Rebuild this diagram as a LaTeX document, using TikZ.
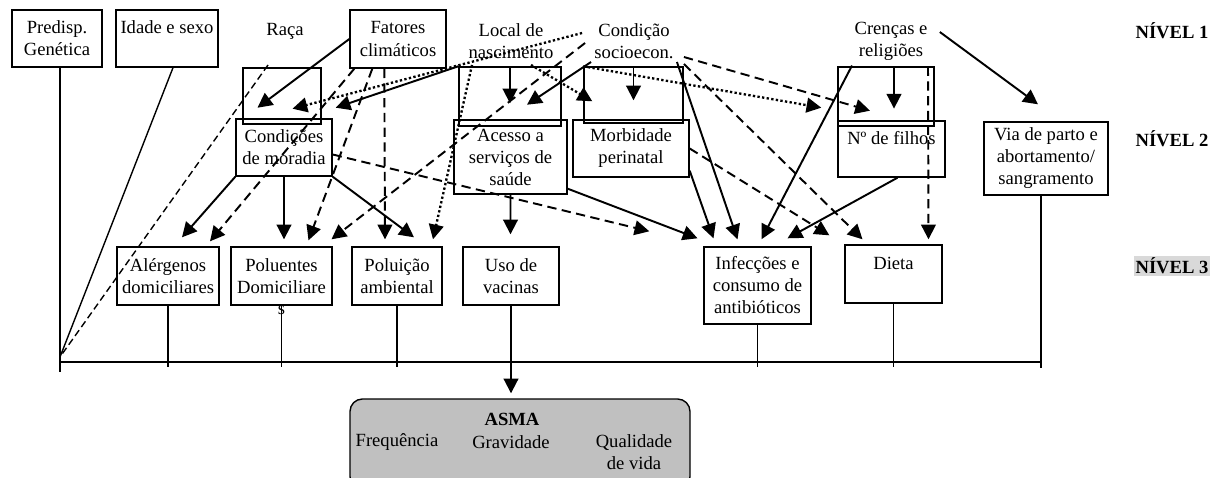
\documentclass[tikz,border=0pt]{standalone}
\usepackage{fontspec}
\setmainfont{Liberation Serif}
\usepackage{xcolor}
\definecolor{AsmaGray}{RGB}{192,192,192}
\definecolor{TagGray}{RGB}{217,217,217}
\usepackage{tikz}
\usetikzlibrary{
  arrows.meta,
  positioning, calc
}
\newlength{\pxl}
\setlength{\pxl}{0.645pt}
\newcommand{\diafont}{\fontsize{12pt}{14.2pt}\selectfont}
\tikzset{
  % Factor box (size given in pixels)
  factor/.style={
    rectangle, draw=black, line width=0.9pt,
    align=center, inner sep=1pt
  },
  sized/.style 2 args={minimum width=#1\pxl, minimum height=#2\pxl},
  % Empty frame left behind a level-2 box
  ghost/.style={rectangle, draw=black, line width=0.9pt, inner sep=0pt},
  % Loose text
  ftext/.style={align=center, inner sep=2pt},
  % Level tag
  tag/.style={font=\diafont\bfseries, inner sep=1pt},
  % Outcome box
  asmabox/.style={
    rectangle, rounded corners=8pt,
    draw=black, line width=0.9pt, fill=AsmaGray,
    minimum width=340\pxl, minimum height=90\pxl
  },
  % Arrows
  arr/.style={-{Triangle[length=9.5pt,width=9.5pt]}, line width=1.25pt},
  darr/.style={arr, dash pattern=on 6pt off 3.5pt},
  oarr/.style={arr, line width=1.5pt, dash pattern=on 1.5pt off 1.5pt},
  % Thin joining lines
  bus/.style={line width=0.9pt},
}

\begin{document}
\begin{tikzpicture}[x=\pxl, y=-\pxl, font=\diafont]
  \clip (0,0) rectangle (1218,478);

  % level 1
  \node[factor, sized={90}{57}] (pred) at (57,38.5) {Predisp.\\Genética};
  \node[factor, sized={102}{57}] (idade) at (167,38.5) {Idade e sexo\\~};
  \node[ftext] (raca) at (285,31) {Raça};
  \node[factor, sized={96}{58}] (fatores) at (398,39) {Fatores\\climáticos};
  \node[ftext] (local) at (511,41) {Local de\\nascimento};
  \node[ftext] (socio) at (634,41) {Condição\\socioecon.};
  \node[ftext] (crencas) at (891,41) {Crenças e\\religiões};

  % old frames behind level 2
  \node[ghost, sized={78}{56}] (sh1) at (282,96) {};
  \node[ghost, sized={102}{59}] (sh2) at (510,96.5) {};
  \node[ghost, sized={99}{56}] (sh3) at (633.5,95) {};
  \node[ghost, sized={96}{59}] (sh4) at (886,96.5) {};

  % level 2
  \node[factor, sized={96}{57}] (moradia) at (284,147.5) {Condições\\de moradia};
  \node[factor, sized={113}{74}] (acesso) at (510.5,157) {Acesso a\\serviços de\\saúde};
  \node[factor, sized={116}{57}] (morb) at (631,148.5) {Morbidade\\perinatal};
  \node[factor, sized={107}{56}] (filhos) at (891.5,149) {Nº de filhos\\~};
  \node[factor, sized={124}{73}] (viaparto) at (1046,158.5) {Via de parto e\\abortamento/\\sangramento};

  % level 3
  \node[factor, sized={102}{58}] (alerg) at (168,276) {Alérgenos\\domiciliares};
  \node[factor, sized={101}{58}, label={[inner sep=0pt]below:s}] (polu) at (281.5,276) {Poluentes\\Domiciliare};
  \node[factor, sized={90}{58}] (poluamb) at (397,276) {Poluição\\ambiental};
  \node[factor, sized={96}{58}] (vacinas) at (511,276) {Uso de\\vacinas};
  \node[factor, sized={107}{77}] (infec) at (757.5,285.5) {Infecções e\\consumo de\\antibióticos};
  \node[factor, sized={97}{58}] (dieta) at (893.5,274) {Dieta\\~};

  \node[tag] (niv1) at (1172,31) {NÍVEL 1};
  \node[tag] (niv2) at (1172,139) {NÍVEL 2};
  \node[tag, fill=TagGray] (niv3) at (1172,266) {NÍVEL 3};

  % outcome
  \node[asmabox] (asma) at (520,444) {};
  \node[inner sep=0pt] (asmat) at (512,419) {\bfseries ASMA};
  \node[inner sep=0pt] (freq) at (397,442) {Frequência};
  \node[inner sep=0pt] (grav) at (511,442) {Gravidade};
  \node[align=center, inner sep=0pt] (qual) at (634,452) {Qualidade\\de vida};

  % joining lines to the outcome
  \coordinate (busL) at (60,362);
  \coordinate (busR) at (1041,362);
  \coordinate (tick) at (0,367);
  \coordinate (corner) at (60,357);
  \coordinate (asmatop) at ([yshift=5\pxl]asma.north);
  \draw[bus] ([xshift=3\pxl]pred.south) -- ([yshift=-10\pxl]busL);
  \draw[bus] (busL) -- (busR);
  \draw[bus] (viaparto.south -| busR) -- ([yshift=-6\pxl]busR);
  \foreach \b in {alerg,polu,poluamb,infec,dieta}
    \draw[bus] (\b.south) -- (\b.south |- tick);
  \draw[bus] (vacinas.south) -- (vacinas.south |- busL);
  \draw[arr] (vacinas.south |- busL) -- (vacinas.south |- asmatop);
  \draw[bus] ([shift={(6,0)}]idade.south) -- (corner);
  \draw[bus, dash pattern=on 4.5pt off 2.5pt] ([shift={(-17,34)}]raca.center) -- (corner);

  % solid arrows
  \draw[arr] (fatores.west) -- ([shift={(-24.5,-17)}]sh1.south);
  \draw[arr] (sh2.north west) -- ([shift={(14,-17)}]sh1.south east);
  \draw[arr] (sh2.north) -- ++(0,37);
  \draw[arr] (socio.south west) -- ([shift={(17,-22)}]sh2.south);
  \draw[arr] (sh3.north) -- ++(0,34);
  \draw[arr] (socio.south east) -- ([shift={(-20,-7)}]infec.north);
  \draw[arr] ([shift={(-39,2)}]crencas.south) -- ([shift={(4,-7)}]infec.north);
  \draw[arr] ([shift={(3,3)}]crencas.south) -- ++(0,42);
  \draw[arr] ([shift={(9,-9)}]crencas.east) -- ([shift={(-8,-17)}]viaparto.north);
  \draw[arr] (moradia.south west) -- ([shift={(14,-9)}]alerg.north);
  \draw[arr] (moradia.south) -- ([shift={(2.5,-7)}]polu.north);
  \draw[arr] (moradia.south east) -- ([shift={(17,-9)}]poluamb.north);
  \draw[arr] (acesso.south) -- ([shift={(-0.5,-12)}]vacinas.north);
  \draw[arr] ([shift={(0,-6)}]acesso.south east) -- ([shift={(-60,-8)}]infec.north);
  \draw[arr] ([shift={(0,-7)}]morb.south east) -- ([shift={(-44,-8)}]infec.north);
  \draw[arr] ([shift={(6,0)}]filhos.south) -- ([shift={(30,-8)}]infec.north);

  % dashed arrows
  \draw[darr] ([shift={(5,0)}]fatores.south west) -- ([shift={(42,-5)}]alerg.north);
  \draw[darr] ([shift={(23,0)}]fatores.south west) -- ([shift={(27,-6)}]polu.north);
  \draw[darr] ([shift={(35,0)}]fatores.south west) -- ([shift={(-12,-7)}]poluamb.north);
  \draw[darr] ([shift={(-6,2)}]socio.west) -- ([shift={(50,-7)}]polu.north);
  \draw[darr] ([shift={(7,-5)}]socio.south east) -- ([shift={(-16,-16)}]sh4.south);
  \draw[darr] ([shift={(7,2)}]socio.south east) -- ([shift={(-31,-5)}]dieta.north);
  \draw[darr] ([shift={(37,3)}]crencas.south) -- ([shift={(35,-5)}]dieta.north);
  \draw[darr] ([shift={(0,7)}]moradia.east) -- ([shift={(-54,-15)}]infec.north west);
  \draw[darr] (morb.east) -- ([shift={(-15,-9)}]dieta.north west);

  % dotted arrows
  \draw[oarr] ([shift={(20,3)}]local.south) -- ([shift={(9,35)}]sh3.north west);
  \draw[oarr] ([shift={(-39,3)}]local.south) -- ([shift={(36,-7)}]poluamb.north);
  \draw[oarr] ([shift={(-9,-8)}]socio.west) -- ([shift={(10.5,-16)}]sh1.south);
  \draw[oarr] (sh3.north west) -- ([shift={(-16,-19)}]sh4.south west);
\end{tikzpicture}
\end{document}
